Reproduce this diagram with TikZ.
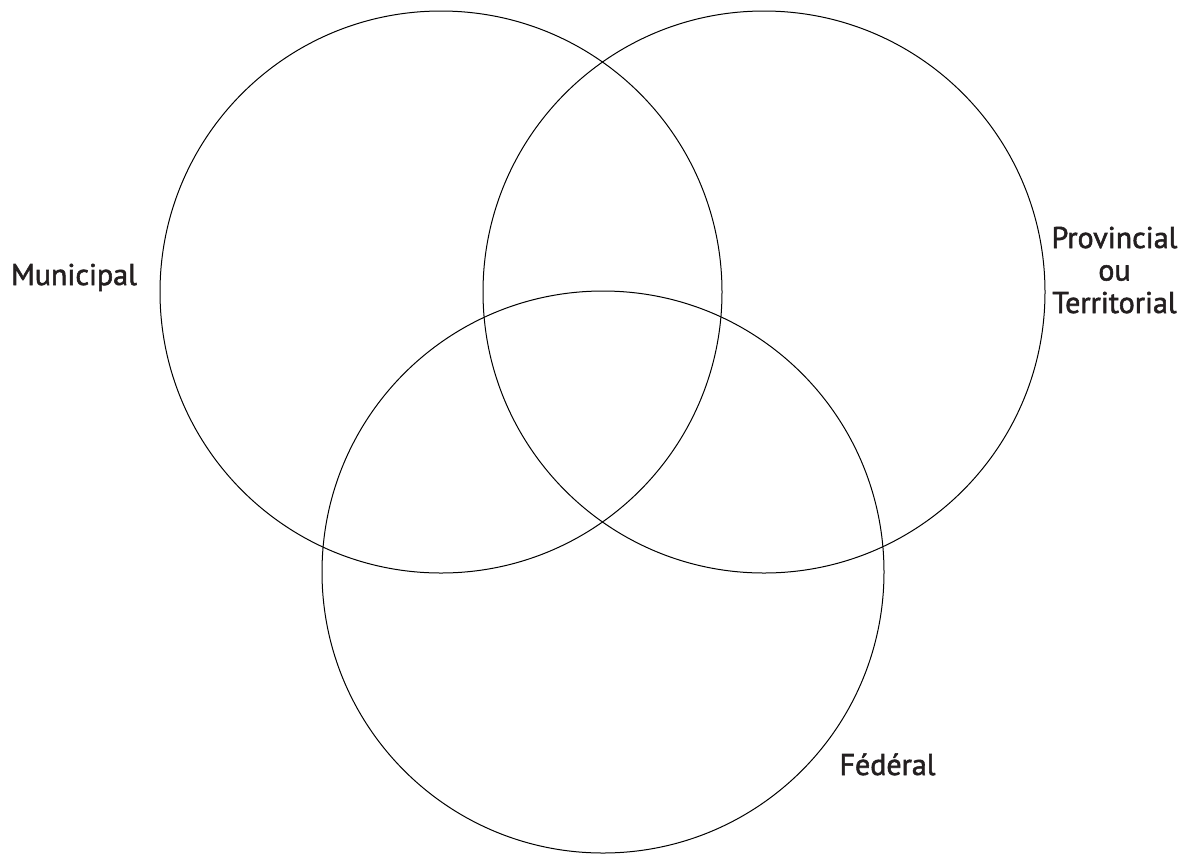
\documentclass[tikz,border=0pt]{standalone}
\usepackage{fontspec}
\setmainfont{PT Sans}
\newfontfamily\levelfont{PT Sans}[FakeBold=1.8]
\definecolor{textgray}{HTML}{231F20}

\begin{document}
\begin{tikzpicture}[x=0.5pt, y=-0.5pt,
    ring/.style={draw, circle, minimum size=281pt, inner sep=0pt, line width=0.5pt},
    levelname/.style={text=textgray, font=\levelfont\fontsize{15}{16.25}\selectfont, align=center, anchor=base, inner sep=0pt}]
    \useasboundingbox (0,0) rectangle (1189,853);

    \node[ring] (M) at (441,292) {};
    \node[ring] (P) at (764,292) {};
    \node[ring] (F) at (603,572) {};

    \node[levelname] (Mname) at (74,285) {Municipal};
    \node[levelname] (Pname) at (1114.5,313) {Provincial\\ou\\Territorial};
    \node[levelname] (Fname) at (887.5,775) {Fédéral};
\end{tikzpicture}
\end{document}
